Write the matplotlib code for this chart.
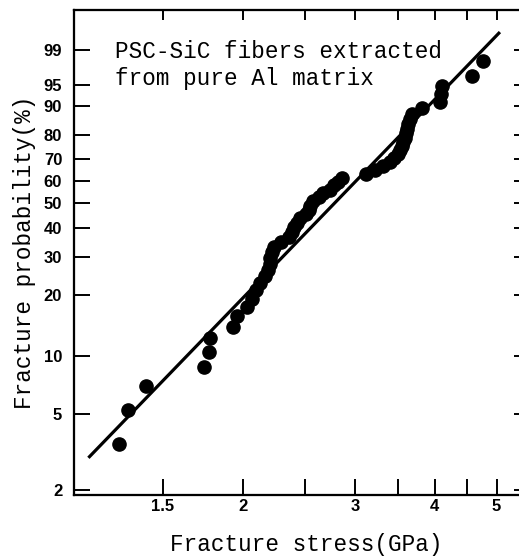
import numpy as np
import matplotlib
matplotlib.use('Agg')
import matplotlib.pyplot as plt
from matplotlib.ticker import FixedLocator, NullLocator

# ---- data ----
stress_gpa = [1.28, 1.32, 1.41, 1.74, 1.77, 1.78, 1.93, 1.96, 2.03, 2.07,
              2.10, 2.13, 2.17, 2.19, 2.21, 2.21, 2.22, 2.24, 2.30, 2.36,
              2.39, 2.41, 2.43, 2.46, 2.51, 2.54, 2.55, 2.58, 2.63, 2.67,
              2.74, 2.78, 2.82, 2.86, 3.12, 3.22, 3.32, 3.40, 3.45, 3.50,
              3.53, 3.55, 3.57, 3.59, 3.60, 3.62, 3.63, 3.66, 3.69, 3.82,
              4.08, 4.09, 4.10, 4.57, 4.76]
probability_pct = [3.5, 5.3, 7.0, 8.8, 10.5, 12.3, 14.0, 15.8, 17.5, 19.3,
                   21.1, 22.8, 24.6, 26.3, 28.1, 29.8, 31.6, 33.3, 35.1, 36.8,
                   38.6, 40.4, 42.1, 43.9, 45.6, 47.4, 49.1, 50.9, 52.6, 54.4,
                   56.1, 57.9, 59.6, 61.4, 63.2, 64.9, 66.7, 68.4, 70.2, 71.9,
                   73.7, 75.4, 77.2, 78.9, 80.7, 82.5, 84.2, 86.0, 87.7, 89.5,
                   91.2, 93.0, 94.7, 96.5, 98.2]
fit_stress = [1.146, 5.06]
fit_prob = [2.96, 99.68]

prob_ticks = [2, 5, 10, 20, 30, 40, 50, 60, 70, 80, 90, 95, 99]
prob_tick_labels = ['2', '5', '10', '20', '30', '40', '50', '60', '70', '80', '90', '95', '99']
stress_ticks = [1.5, 2, 2.5, 3, 3.5, 4, 4.5, 5]
stress_tick_labels = ['1.5', '2', '', '3', '', '4', '', '5']

annotation = 'PSC-SiC fibers extracted\nfrom pure Al matrix'
x_label = 'Fracture stress(GPa)'
y_label = 'Fracture probability(%)'


def weibull(p):
    p = np.asarray(p, dtype=float)
    with np.errstate(all='ignore'):
        return np.log(-np.log(1.0 - p / 100.0))


def weibull_inv(y):
    y = np.asarray(y, dtype=float)
    with np.errstate(all='ignore'):
        return 100.0 * (1.0 - np.exp(-np.exp(y)))


mono = 'Liberation Mono'
tickfont = dict(family='Liberation Sans', weight='bold', size=12)

fig = plt.figure(figsize=(5.19, 5.58), dpi=100)
W, H = 519, 558
left, right, top, bottom = 74, 521, 10, 495
ax = fig.add_axes([left / W, (H - bottom) / H, (right - left) / W, (bottom - top) / H])

ax.set_xscale('log')
ax.set_yscale('function', functions=(weibull, weibull_inv))
xlim = (1.088, 5.46)
ylim = (1.881, 99.947)
ax.set_xlim(*xlim)
ax.set_ylim(*ylim)

ax.plot(fit_stress, fit_prob, color='black', lw=2.3, solid_capstyle='butt', zorder=2)
ax.plot(stress_gpa, probability_pct, 'o', color='black', ms=9.5, mec='black', zorder=3)

# bottom / left ticks
ax.xaxis.set_major_locator(FixedLocator(stress_ticks))
ax.xaxis.set_minor_locator(NullLocator())
ax.set_xticks(stress_ticks)
ax.set_xticklabels(stress_tick_labels, fontdict=tickfont)
ax.yaxis.set_major_locator(FixedLocator(prob_ticks))
ax.yaxis.set_minor_locator(NullLocator())
ax.set_yticks(prob_ticks)
ax.set_yticklabels(prob_tick_labels, fontdict=tickfont)
ax.tick_params(axis='x', which='major', direction='in', length=11.5, width=1.4,
               pad=3.0, top=False, bottom=True)
ax.tick_params(axis='y', which='major', direction='in', length=11.5, width=1.4,
               pad=8.5, left=True, right=False)
ax.tick_params(which='minor', length=0)

# top ticks (shorter)
axt = ax.twiny()
axt.set_xscale('log')
axt.set_xlim(*xlim)
axt.set_xticks(stress_ticks)
axt.xaxis.set_minor_locator(NullLocator())
axt.tick_params(axis='x', which='major', direction='in', length=7, width=1.4,
                top=True, labeltop=False, bottom=False, labelbottom=False)
axt.tick_params(which='minor', length=0)

# right ticks (short)
axr = ax.twinx()
axr.set_yscale('function', functions=(weibull, weibull_inv))
axr.set_ylim(*ylim)
axr.set_yticks(prob_ticks)
axr.yaxis.set_minor_locator(NullLocator())
axr.tick_params(axis='y', which='major', direction='in', length=5, width=1.4,
                right=True, labelright=False, left=False, labelleft=False)
axr.tick_params(which='minor', length=0)

for a in (ax, axt, axr):
    for s in a.spines.values():
        s.set_linewidth(1.5)

ax.text(0.0917, 0.938, annotation, transform=ax.transAxes, family=mono,
        fontsize=16.3, va='top', ha='left', linespacing=1.22)

ax.set_xlabel(x_label, family=mono, fontsize=16.3)
ax.xaxis.set_label_coords(0.519, -0.078)
ax.set_ylabel(y_label, family=mono, fontsize=16.3)
ax.yaxis.set_label_coords(-0.085, 0.5)

fig.savefig('out.png', dpi=100)
